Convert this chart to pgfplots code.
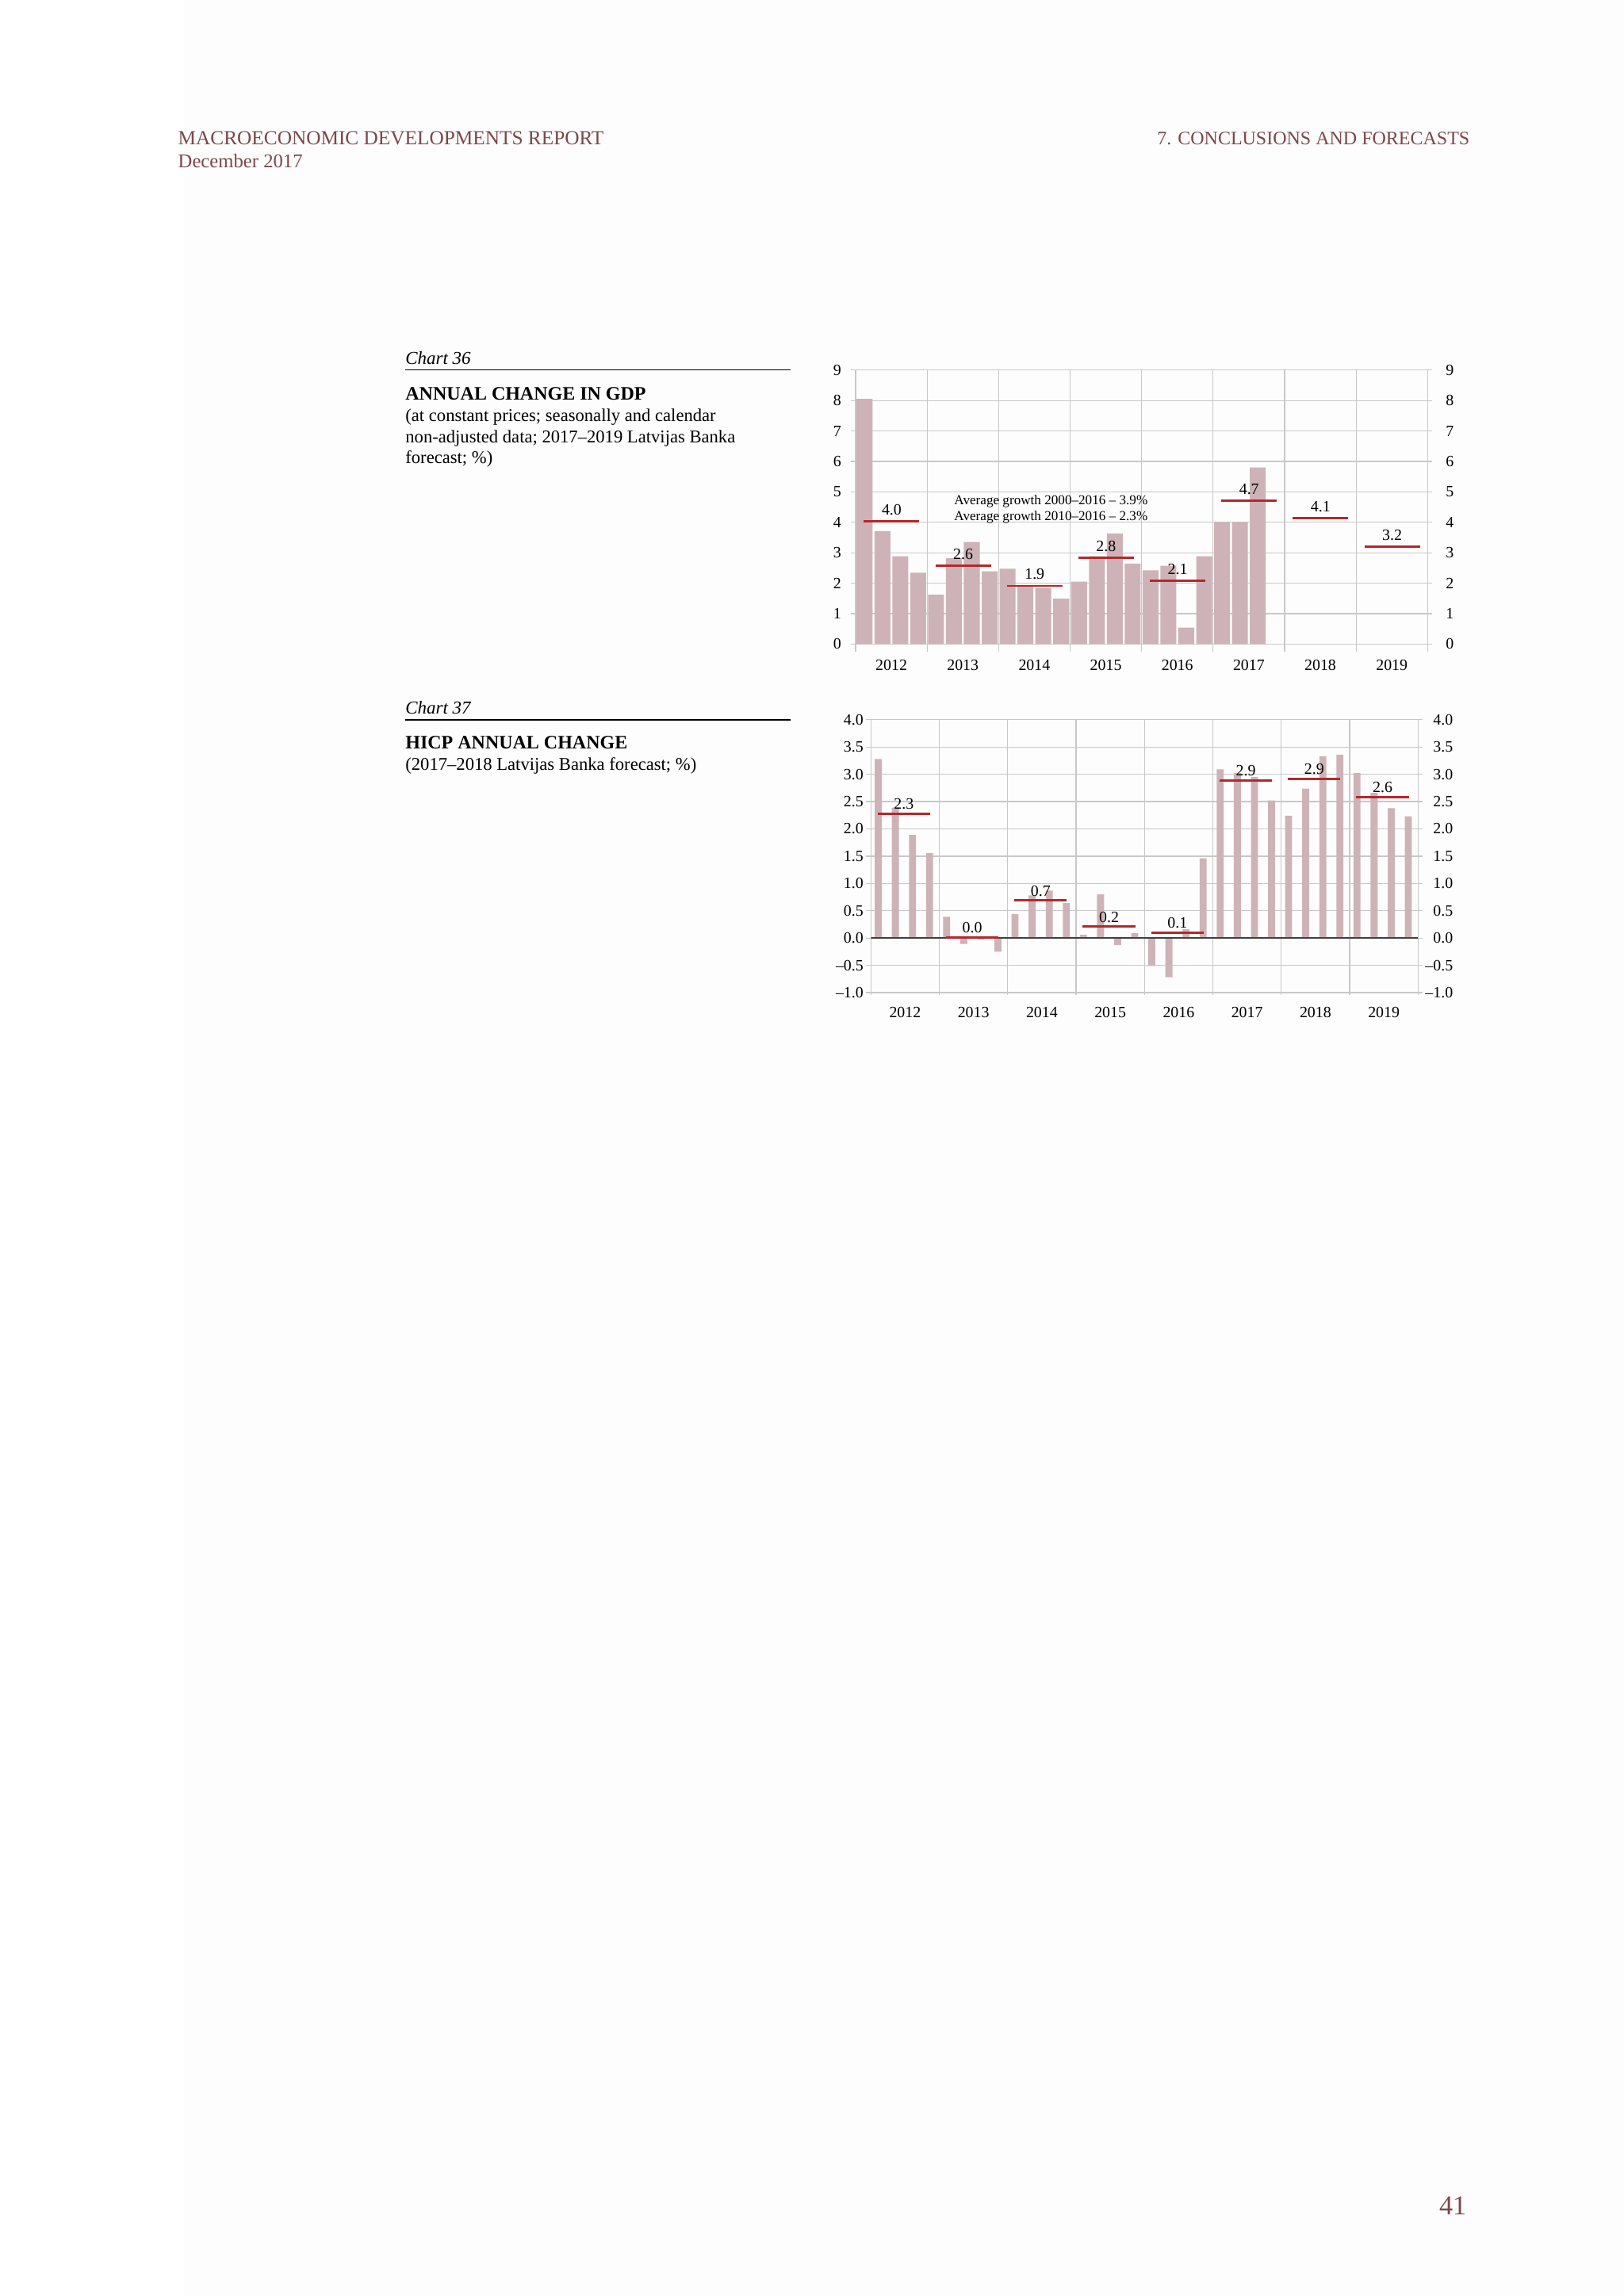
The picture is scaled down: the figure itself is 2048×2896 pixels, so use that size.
\documentclass[border=0pt]{standalone}
\usepackage{fontspec}
\setmainfont{Liberation Serif}
\usepackage{pgfplots}
\pgfplotsset{compat=1.18}
\usepackage{pgfplotstable}

\definecolor{hdr}{HTML}{7B474C}
\definecolor{barc}{HTML}{CDB3B7}
\definecolor{linec}{HTML}{B3282D}
\definecolor{gridc}{HTML}{C8C8C8}
\definecolor{pagebg}{HTML}{FDFDFD}

\newcommand\lbl{\fontsize{5.8}{6}\selectfont}

% quarterly GDP growth, %
\pgfplotstableread{
x y
0.5 8.05
1.5 3.71
2.5 2.88
3.5 2.34
4.5 1.62
5.5 2.82
6.5 3.35
7.5 2.39
8.5 2.47
9.5 1.88
10.5 1.85
11.5 1.49
12.5 2.05
13.5 2.88
14.5 3.63
15.5 2.64
16.5 2.42
17.5 2.57
18.5 0.54
19.5 2.88
20.5 4.00
21.5 4.00
22.5 5.80
}\gdp

% quarterly HICP change, %
\pgfplotstableread{
x y
0.43 3.28
1.43 2.39
2.43 1.89
3.43 1.56
4.43 0.39
5.43 -0.11
6.43 -0.03
7.43 -0.25
8.43 0.44
9.43 0.78
10.43 0.87
11.43 0.64
12.43 0.06
13.43 0.80
14.43 -0.13
15.43 0.09
16.43 -0.51
17.43 -0.72
18.43 0.16
19.43 1.46
20.43 3.09
21.43 3.02
22.43 2.95
23.43 2.52
24.43 2.24
25.43 2.74
26.43 3.33
27.43 3.36
28.43 3.02
29.43 2.66
30.43 2.38
31.43 2.23
}\hicp

\pgfplotsset{
  page chart/.style={
    scale only axis, anchor=south west,
    xmin=0, xmax=32,
    axis line style={gridc, line width=0.35pt},
    xtick={2,6,...,30},
    xticklabels={2012,2013,2014,2015,2016,2017,2018,2019},
    minor xtick={0,4,...,32},
    xminorgrids=true, ymajorgrids=true,
    grid style={gridc, line width=0.35pt},
    minor grid style={gridc, line width=0.35pt},
    major x tick style={draw=none},
    ytick style={gridc, line width=0.35pt},
    minor x tick style={gridc, line width=0.35pt},
    tick align=outside, tick pos=left,
    major tick length=0.6mm,
    tick label style={font=\lbl, inner sep=0pt},
    xticklabel style={anchor=base},
    /pgf/number format/assume math mode=true,
  },
  right labels/.style={
    scale only axis, anchor=south west,
    xmin=0, xmax=32,
    axis x line=none, axis y line*=right,
    axis line style={draw=none},
    ytick style={gridc, line width=0.35pt},
    tick align=outside, major tick length=0.6mm,
    tick label style={font=\lbl, inner sep=0pt},
    /pgf/number format/assume math mode=true,
  },
  avg/.style={linec, line width=0.8pt, no markers},
}

\begin{document}
\begin{tikzpicture}[x=0.1025390625mm, y=-0.1025390625mm]
\useasboundingbox (0,0) rectangle (2048,2896);
\fill[white] (0,0) rectangle (2048,2896);
\fill[pagebg] (232,0) rectangle (2048,2896);
\coordinate (c36) at (1079,812.3);
\coordinate (c37) at (1098.3,1252);

% running header and page number
\begin{scope}[every node/.style={inner sep=0pt, text=hdr}]
\node[anchor=base west, font=\fontsize{7.38}{8}\selectfont] at (224,182) {MACROECONOMIC DEVELOPMENTS REPORT};
\node[anchor=base west, font=\fontsize{7.2}{8}\selectfont] at (224,211) {December 2017};
\node[anchor=base east, font=\fontsize{7.0}{8}\selectfont] at (1854,182) {7. CONCLUSIONS AND FORECASTS};
\node[anchor=base east, font=\fontsize{10}{12}\selectfont] at (1850,2793) {41};
\end{scope}

% captions
\begin{scope}[every node/.style={inner sep=0pt, anchor=base west, font=\fontsize{6.6}{7.3}\selectfont}]
\node[font=\fontsize{6.7}{7.3}\selectfont\itshape] at (510.7,459.8) {Chart 36};
\draw[line width=0.38pt] (510.7,466.8) -- (996.7,466.8);
\node[font=\fontsize{7}{8}\selectfont\bfseries] at (510.7,504.4) {ANNUAL CHANGE IN GDP};
\node at (510.7,531.7) {(at constant prices; seasonally and calendar};
\node at (510.7,558) {non-adjusted data; 2017–2019 Latvijas Banka};
\node at (510.7,584.3) {forecast; \%)};

\node[font=\fontsize{6.7}{7.3}\selectfont\itshape] at (510.7,900) {Chart 37};
\draw[line width=0.38pt] (510.7,908) -- (996.7,908);
\node[font=\fontsize{7}{8}\selectfont\bfseries] at (510.7,944.9) {HICP ANNUAL CHANGE};
\node at (510.7,971.9) {(2017–2018 Latvijas Banka forecast; \%)};
\end{scope}

% Chart 36
\begin{axis}[page chart,
  at={(c36)}, width=73.96mm, height=35.44mm,
  ymin=0, ymax=9, ytick={0,1,...,9},
  minor tick length=1.03mm,
  yticklabel style={xshift=-1.2mm},
  xticklabel style={yshift=-2.83mm},
]
\addplot[ybar, bar width=0.89, bar shift=0pt, fill=barc, draw=none] table[x=x, y=y] {\gdp};
\addplot[avg] coordinates {(0.46,4.03) (3.57,4.03)} node[pos=0.5, anchor=base, yshift=0.85mm, font=\lbl, inner sep=0pt, text=black] {4.0};
\addplot[avg] coordinates {(4.46,2.57) (7.57,2.57)} node[pos=0.5, anchor=base, yshift=0.85mm, font=\lbl, inner sep=0pt, text=black] {2.6};
\addplot[avg] coordinates {(8.46,1.91) (11.57,1.91)} node[pos=0.5, anchor=base, yshift=0.85mm, font=\lbl, inner sep=0pt, text=black] {1.9};
\addplot[avg] coordinates {(12.46,2.83) (15.57,2.83)} node[pos=0.5, anchor=base, yshift=0.85mm, font=\lbl, inner sep=0pt, text=black] {2.8};
\addplot[avg] coordinates {(16.46,2.07) (19.57,2.07)} node[pos=0.5, anchor=base, yshift=0.85mm, font=\lbl, inner sep=0pt, text=black] {2.1};
\addplot[avg] coordinates {(20.46,4.70) (23.57,4.70)} node[pos=0.5, anchor=base, yshift=0.85mm, font=\lbl, inner sep=0pt, text=black] {4.7};
\addplot[avg] coordinates {(24.46,4.14) (27.57,4.14)} node[pos=0.5, anchor=base, yshift=0.85mm, font=\lbl, inner sep=0pt, text=black] {4.1};
\addplot[avg] coordinates {(28.46,3.20) (31.57,3.20)} node[pos=0.5, anchor=base, yshift=0.85mm, font=\lbl, inner sep=0pt, text=black] {3.2};
\node[anchor=base west, inner sep=0pt, font=\fontsize{5}{6}\selectfont] at (axis cs:5.49,4.59) {Average growth 2000–2016 – 3.9\%};
\node[anchor=base west, inner sep=0pt, font=\fontsize{5}{6}\selectfont] at (axis cs:5.49,4.07) {Average growth 2010–2016 – 2.3\%};
\end{axis}
\begin{axis}[right labels,
  at={(c36)}, width=73.96mm, height=35.44mm,
  ymin=0, ymax=9, ytick={0,1,...,9},
  yticklabel style={anchor=west, xshift=1.7mm},
]
\addplot[draw=none] coordinates {(0,0)};
\end{axis}

% Chart 37
\begin{axis}[page chart,
  at={(c37)}, width=70.75mm, height=35.30mm,
  ymin=-1, ymax=4, ytick={-1,-0.5,...,4},
  yticklabels={–1.0,–0.5,0.0,0.5,1.0,1.5,2.0,2.5,3.0,3.5,4.0},
  minor tick length=0.3mm,
  yticklabel style={xshift=-0.3mm},
  xticklabel style={yshift=-2.63mm},
]
\addplot[ybar, bar width=0.41, bar shift=0pt, fill=barc, draw=none] table[x=x, y=y] {\hicp};
\addplot[black!75, line width=0.45pt] coordinates {(0,0) (32,0)};
\addplot[avg] coordinates {(0.39,2.28) (3.46,2.28)} node[pos=0.5, anchor=base, yshift=0.58mm, font=\lbl, inner sep=0pt, text=black] {2.3};
\addplot[avg] coordinates {(4.39,0.01) (7.46,0.01)} node[pos=0.5, anchor=base, yshift=0.58mm, font=\lbl, inner sep=0pt, text=black] {0.0};
\addplot[avg] coordinates {(8.39,0.69) (11.46,0.69)} node[pos=0.5, anchor=base, yshift=0.58mm, font=\lbl, inner sep=0pt, text=black] {0.7};
\addplot[avg] coordinates {(12.39,0.21) (15.46,0.21)} node[pos=0.5, anchor=base, yshift=0.58mm, font=\lbl, inner sep=0pt, text=black] {0.2};
\addplot[avg] coordinates {(16.39,0.10) (19.46,0.10)} node[pos=0.5, anchor=base, yshift=0.58mm, font=\lbl, inner sep=0pt, text=black] {0.1};
\addplot[avg] coordinates {(20.39,2.89) (23.46,2.89)} node[pos=0.5, anchor=base, yshift=0.58mm, font=\lbl, inner sep=0pt, text=black] {2.9};
\addplot[avg] coordinates {(24.39,2.92) (27.46,2.92)} node[pos=0.5, anchor=base, yshift=0.58mm, font=\lbl, inner sep=0pt, text=black] {2.9};
\addplot[avg] coordinates {(28.39,2.58) (31.46,2.58)} node[pos=0.5, anchor=base, yshift=0.58mm, font=\lbl, inner sep=0pt, text=black] {2.6};
\end{axis}
\begin{axis}[right labels,
  at={(c37)}, width=70.75mm, height=35.30mm,
  ymin=-1, ymax=4, ytick={-1,-0.5,...,4},
  yticklabels={–1.0,–0.5,0.0,0.5,1.0,1.5,2.0,2.5,3.0,3.5,4.0},
  yticklabel style={anchor=east, xshift=3.98mm},
]
\addplot[draw=none] coordinates {(0,0)};
\end{axis}
\end{tikzpicture}
\end{document}
